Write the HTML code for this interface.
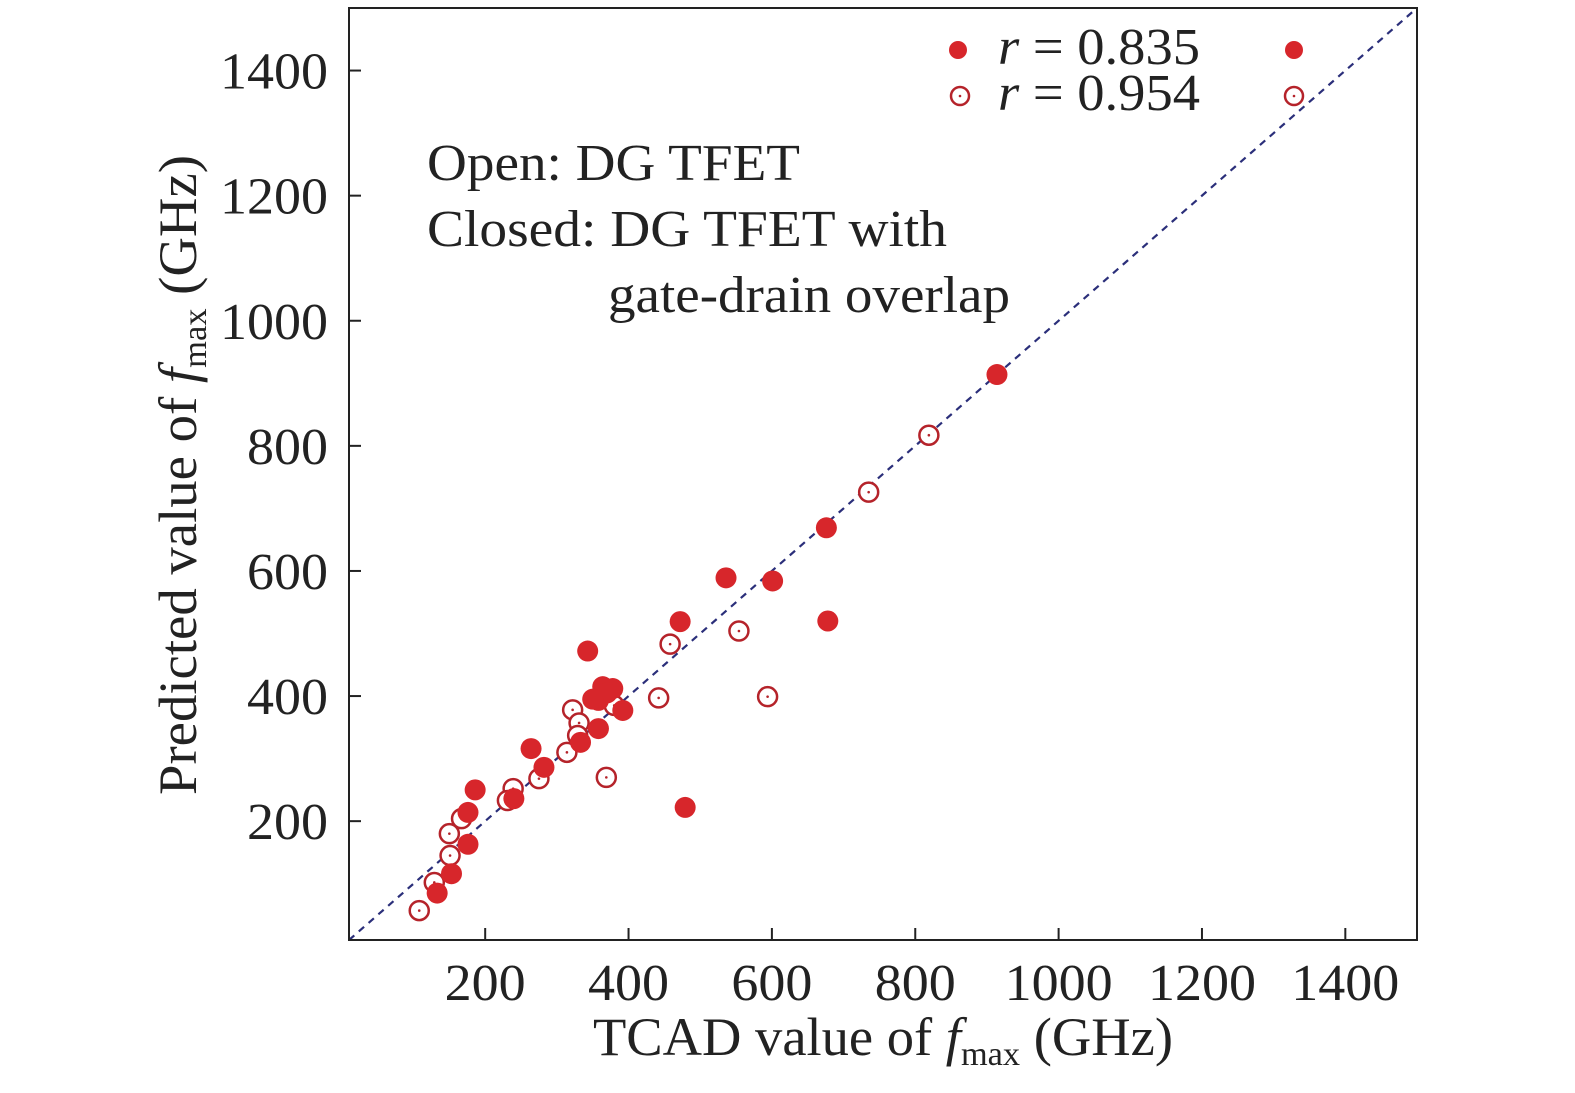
<!DOCTYPE html>
<html><head><meta charset="utf-8">
<style>
html,body{margin:0;padding:0;background:#fff;overflow:hidden;}
svg{display:block;font-family:"Liberation Serif",serif;}
</style></head>
<body>
<svg id="chart" width="1575" height="1093" viewBox="0 0 1575 1093" xmlns="http://www.w3.org/2000/svg">
<g id="plot"></g>
</svg>
<script>
const xTicks = [200,400,600,800,1000,1200,1400];
const yTicks = [200,400,600,800,1000,1200,1400];
const closedX = [914,676,536,601,678,472,343,479,364,378,358,392,358,333,264,282,240,186,176,176,153,133,370,350];
const closedY = [914,669,589,584,520,519,472,222,415,412,393,377,348,326,316,286,236,250,214,163,116,85,405,395];
const openX = [819,735,458,554,442,594,369,322,331,329,314,275,239,231,167,150,151,129,108,380];
const openY = [817,726,483,504,397,399,270,378,357,337,310,268,252,233,204,180,145,102,57,385];

const L=349,R=1417,T=8,B=940,MIN=10,MAX=1500;
const sx=v=>L+(v-MIN)/(MAX-MIN)*(R-L);
const sy=v=>B-(v-MIN)/(MAX-MIN)*(B-T);
const NS="http://www.w3.org/2000/svg";
const svg=document.getElementById('plot');
function mk(tag,attrs,parent){const e=document.createElementNS(NS,tag);for(const k in attrs)e.setAttribute(k,attrs[k]);(parent||svg).appendChild(e);return e;}
const RED="#d7262b", DRED="#b5232a";

const d=mk('line',{x1:sx(MIN),y1:sy(MIN),x2:sx(MAX),y2:sy(MAX),stroke:"#2b2f7a","stroke-width":2.2,"stroke-dasharray":"7,6"});



const fr=mk('rect',{x:L,y:T,width:R-L,height:B-T,fill:"none",stroke:"#222","stroke-width":2});



xTicks.forEach(v=>{
  const t=mk('line',{x1:sx(v),x2:sx(v),y1:B,y2:B-12,stroke:"#222","stroke-width":2});
  
  
  const s=String(v);
  const l=mk('text',{x:sx(v),y:1000,"text-anchor":"middle","font-size":52,fill:"#222",textLength:s.length*27,lengthAdjust:"spacingAndGlyphs"});
  l.textContent=s;
  
  
});
yTicks.forEach(v=>{
  const t=mk('line',{x1:L,x2:L+12,y1:sy(v),y2:sy(v),stroke:"#222","stroke-width":2});
  
  
  const s=String(v);
  const l=mk('text',{x:328,y:sy(v)+18,"text-anchor":"end","font-size":52,fill:"#222",textLength:s.length*27,lengthAdjust:"spacingAndGlyphs"});
  l.textContent=s;
  
  
});

function openPt(x,y,r,parent){
  const g=mk('g',{},parent);
  mk('circle',{cx:x,cy:y,r:r,fill:"#fff",stroke:DRED,"stroke-width":2.5},g);
  mk('circle',{cx:x,cy:y,r:1.3,fill:DRED},g);
  return g;
}
openX.forEach((v,i)=>{
  const g=openPt(sx(v),sy(openY[i]),9.5);
  
  
});
closedX.forEach((v,i)=>{
  const c=mk('circle',{cx:sx(v),cy:sy(closedY[i]),r:10.5,fill:RED});
  
  
});

const lg=mk('g',{});


const m1=mk('circle',{cx:958,cy:50,r:9,fill:RED},lg);


const m2=openPt(960,96,9,lg);


const m3=mk('circle',{cx:1294,cy:50,r:9,fill:RED},lg);


const m4=openPt(1294,96,9,lg);


</script>
<svg style="position:absolute;left:0;top:0" width="1575" height="1093">
<g font-family="Liberation Serif, serif" fill="#222">
<text x="998" y="64" font-size="52" textLength="202" lengthAdjust="spacingAndGlyphs"><tspan font-style="italic">r</tspan> = 0.835</text>
<text x="998" y="110" font-size="52" textLength="202" lengthAdjust="spacingAndGlyphs"><tspan font-style="italic">r</tspan> = 0.954</text>
<text x="427" y="180" font-size="52" textLength="373" lengthAdjust="spacingAndGlyphs">Open: DG TFET</text>
<text x="427" y="246" font-size="52" textLength="520" lengthAdjust="spacingAndGlyphs">Closed: DG TFET with</text>
<text x="608" y="312" font-size="52" textLength="402" lengthAdjust="spacingAndGlyphs">gate-drain overlap</text>
<text x="593" y="1055" font-size="54" textLength="580" lengthAdjust="spacingAndGlyphs">TCAD value of <tspan font-style="italic">f</tspan><tspan font-size="34" dy="10">max</tspan><tspan dy="-10"> (GHz)</tspan></text>
<text transform="translate(196,795) rotate(-90)" font-size="54" textLength="640" lengthAdjust="spacingAndGlyphs">Predicted value of <tspan font-style="italic">f</tspan><tspan font-size="34" dy="10">max</tspan><tspan dy="-10"> (GHz)</tspan></text>
</g>
</svg>
</body></html>
